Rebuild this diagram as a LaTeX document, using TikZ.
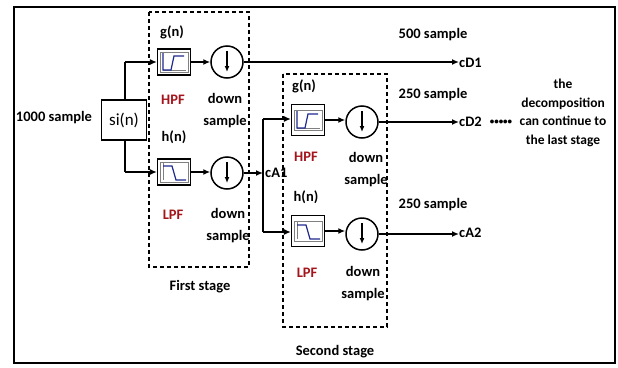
\documentclass[tikz,border=0pt]{standalone}
\usepackage{fontspec}
\setmainfont{Carlito}
\usetikzlibrary{arrows.meta}
\definecolor{fred}{HTML}{A3141B}
\definecolor{fblue}{HTML}{1F2A8F}
\begin{document}
\begin{tikzpicture}[x=1pt,y=-1pt,
  lbl/.style={font=\bfseries\fontsize{14.5}{15}\selectfont, inner sep=0pt},
  two/.style={lbl, align=center, font=\bfseries\fontsize{14.5}{22}\selectfont},
  red lbl/.style={lbl, text=fred},
  filt/.style={draw, line width=1.2pt, minimum width=33pt, minimum height=26pt, inner sep=0pt},
  filtb/.style={filt, minimum height=31pt},
  dsamp/.style={circle, draw, line width=1.5pt, minimum size=32pt, inner sep=0pt},
  conn/.style={line width=1.6pt, -{Latex[length=7pt,width=6pt]}},
  wire/.style={line width=1.6pt},
  stagebox/.style={line width=1.2pt, dash pattern=on 4pt off 3pt},
  icon/.style={fblue, line width=1.2pt},
  axis/.style={gray, line width=0.8pt}
]
\useasboundingbox (0,0) rectangle (618,367);
\draw[line width=2.4pt] (14,7) rectangle (615,363);
% stage boxes
\draw[stagebox] (149,12) rectangle (249,267);
\draw[stagebox] (283,74) rectangle (387,327);
% first stage
\node[draw, line width=1.4pt, minimum width=45pt, minimum height=40pt, inner sep=0pt, font=\fontsize{17}{18}\selectfont] (si) at (124,120) {si(n)};
\node[lbl] (in) at (54,118) {1000 sample};
\node[filt] (h1) at (174,62) {};
\node[filt] (l1) at (174,172) {};
\node[dsamp] (d1) at (227,62) {};
\node[dsamp] (d2) at (227,173) {};
\node[lbl] (g1t) at (172,32) {g(n)};
\node[red lbl] (hp1) at (173,100) {HPF};
\node[two] (ds1) at (225,111) {down\\sample};
\node[lbl] (h1t) at (174,137) {h(n)};
\node[red lbl] (lp1) at (173,215) {LPF};
\node[two] (ds2) at (228,226) {down\\sample};
\node[lbl] (st1) at (200,287) {First stage};
% second stage
\node[filtb] (h2) at (308,120) {};
\node[filtb] (l2) at (308,231) {};
\node[dsamp] (d3) at (362,122) {};
\node[dsamp] (d4) at (362,234) {};
\node[lbl] (g2t) at (304,86) {g(n)};
\node[red lbl] (hp2) at (306,157) {HPF};
\node[two] (ds3) at (366,170) {down\\sample};
\node[lbl] (h2t) at (306,197) {h(n)};
\node[red lbl] (lp2) at (307,273) {LPF};
\node[two] (ds4) at (363,284) {down\\sample};
\node[lbl] (st2) at (335,352) {Second stage};
% outputs
\node[lbl, anchor=west] (cd1) at (459,63) {cD1};
\node[lbl] (s500) at (433,35) {500 sample};
\node[lbl, anchor=west] (cd2) at (459,122) {cD2};
\node[lbl] (s250a) at (433,95) {250 sample};
\node[lbl, anchor=west] (ca2) at (459,233) {cA2};
\node[lbl] (s250b) at (433,205) {250 sample};
\node[lbl, anchor=west] (ca1) at (265,173) {cA1};
\node[inner sep=0pt, font=\bfseries\fontsize{9}{9}\selectfont] (dots) at (501,122) {•••••};
\node[align=center, font=\bfseries\fontsize{13.5}{18.5}\selectfont, inner sep=0pt] (note) at (563,113) {the\\decomposition\\can continue to\\the last stage};
% icons
\foreach \n in {h1,h2}{
  \begin{scope}[shift={(\n.center)}]
    \draw[axis] (-14,-10) rectangle (14,10);
    \draw[axis] (-11,8) -- (12,8);
    \draw[icon] (-11,-9) -- (-11,8) -- (-3,8) -- (0,-6) -- (10,-6);
  \end{scope}}
\foreach \n in {l1,l2}{
  \begin{scope}[shift={(\n.center)}]
    \draw[axis] (-14,-10) rectangle (14,10);
    \draw[axis] (-11,-9) -- (-11,8);
    \draw[icon] (-11,-6) -- (-2,-6) -- (2,8) -- (12,8);
  \end{scope}}
\foreach \n in {d1,d2,d3,d4}{
  \draw[line width=1.5pt, -{Latex[length=6pt,width=5pt]}] ([yshift=11pt]\n.center) -- ([yshift=-10pt]\n.center);}
% connectors
\coordinate (b1) at (125,62);
\coordinate (b2) at (125,172);
\draw[wire] (si.north -| b1) -- (b1);
\draw[conn] (b1) -- (h1);
\draw[wire] (si.south -| b2) -- (b2);
\draw[conn] (b2) -- (l1);
\draw[conn] (h1) -- (d1);
\draw[conn] (l1.east) -- (d2.west |- l1.east);
\draw[conn] (d1) -- (cd1.west |- d1);
\coordinate (c1) at (263,173);
\draw[conn] (d2) -- (c1);
\coordinate (c2) at (263,119);
\coordinate (c3) at (263,232);
\draw[wire] (c2) -- (c3);
\draw[conn] (c2) -- (h2.west |- c2);
\draw[conn] (c3) -- (l2.west |- c3);
\draw[conn] (h2.east) -- (d3.west |- h2.east);
\draw[conn] (l2.east) -- (d4.west |- l2.east);
\draw[conn] (d3) -- (cd2.west |- d3);
\draw[conn] (d4) -- (ca2.west |- d4);
\end{tikzpicture}
\end{document}
